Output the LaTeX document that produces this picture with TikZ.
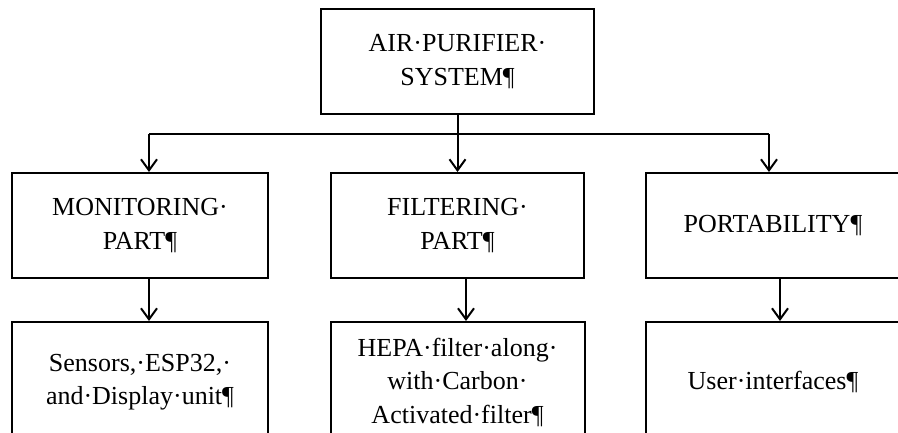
\documentclass[tikz,border=0pt]{standalone}
\usepackage{fontspec}
\setmainfont{Liberation Serif}
\usetikzlibrary{arrows.meta}

\begin{document}
\begin{tikzpicture}[x=1pt,y=-1pt,>={Straight Barb[length=11pt,width=16pt]},line width=2pt,node distance=164pt,
    box/.style={draw,rectangle,align=center,inner sep=0pt,minimum width=256pt,minimum height=105pt,font=\fontsize{26}{33.5}\selectfont},
    sub box/.style={box,minimum height=120pt}]
    \useasboundingbox (0,0) rectangle (898,433);
    \clip (0,0) rectangle (898,433);

    \node[box,minimum width=273pt] (sys) at (457.5,61.5) {AIR·PURIFIER·\\SYSTEM¶};
    \node[box,minimum width=253pt] (fil) [below of = sys] {FILTERING·\\PART¶};
    \node[box] (mon) [left of = fil, xshift = -153.5] {MONITORING·\\PART¶};
    \node[box,minimum width=254pt] (port) [right of = fil, xshift = 151.5] {PORTABILITY¶};

    \node[sub box] (monsub) [below of = mon, yshift = 7.5] {Sensors,·ESP32,·\\and·Display·unit¶};
    \node[sub box,minimum width=254pt] (filsub) [below of = fil, yshift = 7.5] {HEPA·filter·along·\\with·Carbon·\\Activated·filter¶};
    \node[sub box,minimum width=254pt] (portsub) [below of = port, yshift = 7.5] {User·interfaces¶};

    % bus line under the top box
    \coordinate (bus) at (sys.south |- 0,134);
    \coordinate[xshift=9pt] (busL) at (mon.north |- bus);
    \coordinate[xshift=-4pt] (busR) at (port.north |- bus);

    \draw (sys.south) -- (bus);
    \draw (busL) -- (busR);
    \draw[->] (bus) -- (fil.north);
    \draw[->] (busL) -- (busL |- mon.north);
    \draw[->] (busR) -- (busR |- port.north);

    \draw[->] ([xshift=9pt]mon.south) -- ([xshift=9pt]monsub.north);
    \draw[->] ([xshift=8.5pt]fil.south) -- ([xshift=8.5pt]filsub.north);
    \draw[->] ([xshift=7pt]port.south) -- ([xshift=7pt]portsub.north);
\end{tikzpicture}
\end{document}
